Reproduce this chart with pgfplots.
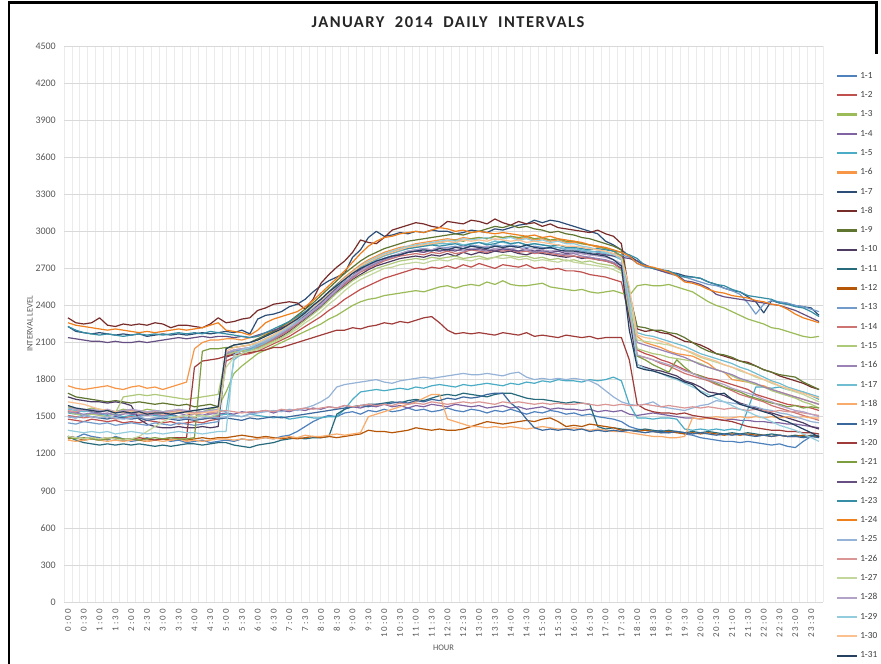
\documentclass[border=0pt]{standalone}
\usepackage{fontspec}
\setmainfont{Carlito}
\newfontfamily\titlefont[LetterSpace=9]{Carlito}
\newfontfamily\xtickfont[LetterSpace=22]{Carlito}
\usepackage{pgfplots}
\pgfplotsset{compat=1.18}
\definecolor{c1}{HTML}{4F81BD}\definecolor{c2}{HTML}{C0504D}\definecolor{c3}{HTML}{9BBB59}
\definecolor{c4}{HTML}{8064A2}\definecolor{c5}{HTML}{4BACC6}\definecolor{c6}{HTML}{F79646}
\definecolor{c7}{HTML}{2C4D75}\definecolor{c8}{HTML}{772C2A}\definecolor{c9}{HTML}{5F7530}
\definecolor{c10}{HTML}{4D3B62}\definecolor{c11}{HTML}{276A7C}\definecolor{c12}{HTML}{B65708}
\definecolor{c13}{HTML}{729ACA}\definecolor{c14}{HTML}{CD7371}\definecolor{c15}{HTML}{AFC97A}
\definecolor{c16}{HTML}{9983B5}\definecolor{c17}{HTML}{6FBDD1}\definecolor{c18}{HTML}{F9AB6B}
\definecolor{c19}{HTML}{3A679C}\definecolor{c20}{HTML}{9F3B38}\definecolor{c21}{HTML}{7E9C40}
\definecolor{c22}{HTML}{664F82}\definecolor{c23}{HTML}{358EA6}\definecolor{c24}{HTML}{F07F1E}
\definecolor{c25}{HTML}{95B3D7}\definecolor{c26}{HTML}{D99694}\definecolor{c27}{HTML}{C3D69B}
\definecolor{c28}{HTML}{B3A2C7}\definecolor{c29}{HTML}{93CDDD}\definecolor{c30}{HTML}{FAC090}
\definecolor{c31}{HTML}{254061}
\definecolor{lbl}{HTML}{595959}
\definecolor{leg}{HTML}{404040}
\newcommand\myser[2]{\addplot[color=#1] table[x expr=\coordindex*0.25, y index=0, header=false, row sep=\\]{#2};}
\begin{document}
\begin{tikzpicture}
\useasboundingbox (0,0) rectangle (881pt,664pt);
\fill[white] (0,0) rectangle (881pt,664pt);
\draw[line width=2.5pt] (9pt,-3pt) -- (9pt,661.5pt) -- (876.5pt,661.5pt) -- (876.5pt,610pt);
\node[font=\titlefont\bfseries\fontsize{16.5}{19}\selectfont, text=black!85] at (448pt,641.5pt) {JANUARY\ \ 2014\ \ DAILY\ \ INTERVALS};
\begin{axis}[at={(64pt,62pt)}, anchor=south west, scale only axis, width=759pt, height=556pt,
 xmin=-0.125, xmax=23.875, ymin=0, ymax=4500,
 ytick={0,300,...,4500},
 xtick={0,0.5,...,23.5},
 xticklabels={0:00,0:30,1:00,1:30,2:00,2:30,3:00,3:30,4:00,4:30,5:00,5:30,6:00,6:30,7:00,7:30,8:00,8:30,9:00,9:30,10:00,10:30,11:00,11:30,12:00,12:30,13:00,13:30,14:00,14:30,15:00,15:30,16:00,16:30,17:00,17:30,18:00,18:30,19:00,19:30,20:00,20:30,21:00,21:30,22:00,22:30,23:00,23:30},
 minor xtick={-0.125,0.125,...,23.875},
 xminorgrids, ymajorgrids, xmajorgrids=false,
 major grid style={draw=black!15, line width=0.7pt},
 minor grid style={draw=black!8, line width=0.7pt},
 axis line style={draw=none},
 tick style={draw=none},
 major tick length=0pt, minor tick length=0pt,
 /pgf/number format/set thousands separator={},
 /pgf/number format/assume math mode=true,
 scaled y ticks=false,
 xticklabel style={font=\xtickfont\fontsize{9}{9}\selectfont, text=lbl, rotate=90, anchor=east, inner sep=0pt},
 xticklabel shift=7pt,
 yticklabel style={font=\fontsize{10}{10}\selectfont, text=lbl, anchor=east, inner sep=0pt},
 yticklabel shift=8pt,
 ylabel={INTERVAL LEVEL}, ylabel style={font=\fontsize{8.5}{9}\selectfont, text=lbl, at={(axis description cs:-0.045,0.5)}, anchor=center, rotate=0},
 xlabel={HOUR}, xlabel style={font=\fontsize{8.5}{9}\selectfont, text=lbl, at={(axis description cs:0.5,-0.083)}, anchor=center},
 every axis plot/.append style={line width=1.2pt, line join=round, no markers},
 legend image code/.code={\draw[#1, line width=2.2pt] (0pt,0pt) -- (20pt,0pt);},
 legend style={at={(1.0172,0.9532)}, anchor=north west, draw=none, fill=none, inner sep=0pt, outer sep=0pt,
   font=\fontsize{9.3}{10}\selectfont, text=leg, row sep=11.83pt, column sep=2pt,
   nodes={inner sep=0pt, outer sep=0pt, text height=6pt, text depth=1.5pt}},
 legend cell align=left,
 legend entries={1-1,1-2,1-3,1-4,1-5,1-6,1-7,1-8,1-9,1-10,1-11,1-12,1-13,1-14,1-15,1-16,1-17,1-18,1-19,1-20,1-21,1-22,1-23,1-24,1-25,1-26,1-27,1-28,1-29,1-30,1-31},
]
\myser{c1}{1340\\1330\\1360\\1340\\1330\\1310\\1340\\1320\\1300\\1310\\1330\\1310\\1320\\1300\\1310\\1290\\1300\\1310\\1290\\1300\\1310\\1300\\1320\\1310\\1320\\1330\\1320\\1340\\1350\\1380\\1420\\1460\\1490\\1510\\1500\\1530\\1540\\1520\\1550\\1540\\1560\\1540\\1550\\1570\\1550\\1560\\1540\\1550\\1570\\1550\\1540\\1560\\1550\\1530\\1550\\1540\\1560\\1540\\1520\\1540\\1530\\1550\\1540\\1520\\1530\\1510\\1520\\1500\\1490\\1480\\1460\\1420\\1400\\1390\\1380\\1390\\1370\\1380\\1360\\1350\\1330\\1320\\1310\\1300\\1300\\1290\\1300\\1290\\1280\\1270\\1280\\1260\\1250\\1300\\1340\\1350\\}
\myser{c2}{1480\\1470\\1460\\1480\\1470\\1460\\1470\\1450\\1460\\1450\\1470\\1460\\1450\\1460\\1440\\1450\\1460\\1450\\1470\\1480\\1950\\1980\\2000\\2010\\2030\\2060\\2090\\2120\\2150\\2190\\2230\\2270\\2310\\2360\\2400\\2450\\2490\\2530\\2560\\2590\\2620\\2640\\2660\\2680\\2700\\2690\\2710\\2700\\2720\\2700\\2730\\2710\\2740\\2720\\2700\\2730\\2720\\2710\\2730\\2700\\2710\\2690\\2700\\2680\\2680\\2670\\2650\\2640\\2630\\2610\\2590\\2300\\2040\\2010\\1990\\1960\\1940\\1910\\1880\\1850\\1830\\1810\\1800\\1780\\1760\\1740\\1720\\1680\\1660\\1640\\1620\\1600\\1590\\1580\\1570\\1550\\}
\myser{c3}{1580\\1560\\1550\\1570\\1560\\1550\\1540\\1560\\1550\\1540\\1560\\1550\\1540\\1550\\1530\\1540\\1550\\1540\\1560\\1580\\1700\\1850\\1910\\1960\\2010\\2040\\2070\\2100\\2130\\2160\\2190\\2220\\2250\\2290\\2320\\2360\\2400\\2430\\2450\\2460\\2480\\2490\\2500\\2510\\2520\\2510\\2530\\2550\\2560\\2540\\2560\\2570\\2560\\2590\\2570\\2600\\2570\\2560\\2560\\2570\\2580\\2550\\2540\\2530\\2520\\2530\\2510\\2500\\2510\\2520\\2500\\2480\\2560\\2570\\2560\\2560\\2570\\2550\\2530\\2510\\2470\\2430\\2400\\2380\\2350\\2320\\2290\\2270\\2250\\2220\\2210\\2190\\2170\\2150\\2140\\2150\\}
\myser{c4}{1540\\1530\\1550\\1540\\1530\\1520\\1540\\1530\\1520\\1510\\1530\\1520\\1510\\1520\\1500\\1510\\1520\\1510\\1530\\1520\\1530\\1520\\1540\\1530\\1540\\1550\\1530\\1550\\1540\\1560\\1550\\1570\\1560\\1580\\1570\\1590\\1580\\1570\\1590\\1580\\1600\\1580\\1590\\1570\\1590\\1580\\1600\\1590\\1580\\1600\\1590\\1580\\1590\\1570\\1580\\1590\\1570\\1580\\1560\\1570\\1580\\1560\\1570\\1560\\1560\\1550\\1560\\1540\\1550\\1540\\1550\\1520\\1510\\1520\\1530\\1520\\1510\\1500\\1490\\1490\\1480\\1490\\1480\\1470\\1480\\1470\\1470\\1460\\1460\\1450\\1450\\1440\\1440\\1430\\1420\\1410\\}
\myser{c5}{1530\\1520\\1510\\1530\\1520\\1510\\1520\\1500\\1510\\1500\\1520\\1510\\1500\\1510\\1500\\1490\\1500\\1510\\1500\\1510\\1520\\1510\\1500\\1520\\1510\\1500\\1490\\1500\\1480\\1490\\1500\\1490\\1490\\1500\\1500\\1560\\1640\\1700\\1710\\1720\\1710\\1720\\1730\\1720\\1740\\1730\\1750\\1760\\1750\\1740\\1760\\1750\\1760\\1770\\1760\\1750\\1770\\1760\\1780\\1770\\1790\\1780\\1800\\1790\\1790\\1780\\1800\\1790\\1800\\1820\\1790\\1600\\1490\\1490\\1480\\1490\\1490\\1480\\1400\\1390\\1400\\1390\\1400\\1390\\1400\\1390\\1560\\1740\\1740\\1730\\1740\\1720\\1710\\1700\\1670\\1640\\}
\myser{c6}{1750\\1730\\1720\\1730\\1740\\1750\\1730\\1720\\1740\\1750\\1730\\1740\\1720\\1740\\1760\\1780\\2050\\2100\\2120\\2120\\2130\\2130\\2120\\2140\\2150\\2170\\2190\\2220\\2260\\2300\\2340\\2390\\2450\\2510\\2570\\2630\\2680\\2730\\2770\\2800\\2830\\2850\\2870\\2880\\2900\\2910\\2920\\2930\\2940\\2930\\2950\\2940\\2950\\2940\\2960\\2950\\2960\\2940\\2950\\2930\\2940\\2920\\2930\\2910\\2910\\2900\\2890\\2870\\2860\\2840\\2800\\2400\\2150\\2100\\2080\\2060\\2030\\2010\\2000\\1990\\1960\\1930\\1880\\1860\\1800\\1790\\1780\\1760\\1750\\1720\\1700\\1680\\1660\\1640\\1620\\1600\\}
\myser{c7}{2230\\2190\\2180\\2170\\2180\\2170\\2160\\2170\\2160\\2170\\2150\\2160\\2170\\2160\\2170\\2160\\2170\\2180\\2170\\2180\\2190\\2180\\2200\\2170\\2290\\2320\\2330\\2350\\2390\\2410\\2450\\2510\\2560\\2600\\2630\\2660\\2790\\2850\\2950\\3000\\2960\\2970\\2990\\2980\\3000\\2990\\3010\\3000\\3000\\2980\\2990\\3010\\3000\\2990\\3020\\3010\\3030\\3050\\3060\\3090\\3070\\3090\\3080\\3060\\3040\\3020\\3000\\2980\\2920\\2890\\2850\\2800\\2760\\2720\\2700\\2690\\2670\\2660\\2640\\2630\\2620\\2590\\2570\\2540\\2520\\2510\\2470\\2430\\2340\\2440\\2420\\2410\\2400\\2390\\2380\\2320\\}
\myser{c8}{2300\\2260\\2250\\2260\\2300\\2240\\2230\\2250\\2240\\2250\\2240\\2260\\2250\\2220\\2240\\2240\\2230\\2220\\2250\\2300\\2260\\2270\\2290\\2300\\2360\\2380\\2410\\2420\\2430\\2420\\2370\\2450\\2580\\2650\\2710\\2760\\2830\\2930\\2910\\2900\\2950\\3010\\3030\\3050\\3070\\3060\\3040\\3030\\3080\\3070\\3060\\3090\\3080\\3060\\3100\\3070\\3050\\3080\\3060\\3070\\3040\\3060\\3030\\3020\\3010\\3000\\2990\\3010\\2980\\2960\\2900\\2500\\2210\\2190\\2200\\2180\\2170\\2140\\2110\\2100\\2080\\2050\\2010\\1990\\1970\\1950\\1940\\1910\\1880\\1860\\1830\\1810\\1790\\1770\\1740\\1720\\}
\myser{c9}{1690\\1660\\1650\\1640\\1630\\1620\\1630\\1620\\1610\\1620\\1610\\1600\\1610\\1600\\1590\\1600\\1580\\1590\\1600\\1580\\2050\\2080\\2090\\2100\\2130\\2160\\2190\\2230\\2270\\2320\\2370\\2420\\2480\\2540\\2600\\2660\\2710\\2760\\2800\\2830\\2860\\2880\\2900\\2920\\2930\\2940\\2950\\2960\\2970\\2980\\2970\\2990\\3000\\3020\\3040\\3030\\3050\\3030\\3040\\3020\\3010\\2990\\3000\\2980\\2970\\2950\\2940\\2920\\2900\\2880\\2850\\2500\\2230\\2220\\2200\\2200\\2180\\2170\\2140\\2100\\2060\\2030\\2010\\2000\\1980\\1950\\1930\\1910\\1880\\1860\\1840\\1830\\1820\\1780\\1750\\1720\\}
\myser{c10}{1660\\1640\\1630\\1620\\1620\\1610\\1620\\1610\\1590\\1480\\1440\\1420\\1410\\1410\\1420\\1410\\1410\\1420\\1410\\1420\\1980\\2010\\2030\\2040\\2060\\2090\\2120\\2150\\2190\\2240\\2290\\2340\\2390\\2450\\2510\\2560\\2610\\2650\\2690\\2720\\2740\\2760\\2780\\2790\\2800\\2790\\2810\\2800\\2820\\2800\\2830\\2810\\2830\\2820\\2840\\2830\\2840\\2820\\2810\\2830\\2820\\2810\\2800\\2790\\2800\\2780\\2790\\2770\\2760\\2740\\2700\\2300\\1920\\1900\\1880\\1870\\1850\\1830\\1790\\1770\\1740\\1700\\1690\\1670\\1640\\1610\\1590\\1570\\1550\\1530\\1510\\1490\\1470\\1450\\1420\\1400\\}
\myser{c11}{1340\\1310\\1290\\1280\\1270\\1280\\1270\\1280\\1270\\1280\\1270\\1260\\1270\\1260\\1270\\1280\\1280\\1270\\1280\\1290\\1290\\1270\\1260\\1250\\1270\\1280\\1290\\1310\\1320\\1330\\1320\\1330\\1330\\1340\\1520\\1560\\1580\\1590\\1600\\1600\\1610\\1620\\1610\\1630\\1640\\1630\\1650\\1670\\1680\\1670\\1690\\1680\\1670\\1660\\1680\\1690\\1690\\1670\\1650\\1640\\1640\\1630\\1620\\1610\\1620\\1610\\1600\\1420\\1400\\1410\\1400\\1390\\1390\\1400\\1390\\1380\\1390\\1380\\1370\\1380\\1370\\1380\\1370\\1360\\1370\\1360\\1370\\1360\\1350\\1360\\1350\\1340\\1350\\1340\\1350\\1340\\}
\myser{c12}{1320\\1330\\1310\\1320\\1310\\1320\\1330\\1310\\1320\\1310\\1300\\1310\\1320\\1310\\1320\\1310\\1320\\1330\\1320\\1330\\1330\\1340\\1350\\1340\\1330\\1340\\1330\\1320\\1330\\1320\\1330\\1340\\1330\\1340\\1330\\1340\\1350\\1360\\1390\\1380\\1380\\1370\\1380\\1390\\1410\\1400\\1390\\1400\\1390\\1390\\1400\\1420\\1440\\1460\\1450\\1440\\1450\\1460\\1470\\1460\\1480\\1490\\1460\\1420\\1430\\1420\\1440\\1430\\1420\\1410\\1390\\1390\\1380\\1390\\1380\\1370\\1380\\1370\\1360\\1370\\1360\\1370\\1360\\1350\\1360\\1350\\1360\\1350\\1350\\1340\\1350\\1340\\1340\\1350\\1340\\1340\\}
\myser{c13}{1450\\1440\\1460\\1450\\1440\\1450\\1430\\1440\\1450\\1440\\1430\\1450\\1440\\1430\\1450\\1440\\1430\\1440\\1450\\1460\\2000\\2030\\2040\\2050\\2070\\2100\\2130\\2170\\2210\\2260\\2310\\2360\\2410\\2470\\2530\\2590\\2640\\2690\\2720\\2750\\2780\\2800\\2820\\2840\\2850\\2860\\2850\\2870\\2870\\2880\\2860\\2890\\2880\\2870\\2890\\2880\\2890\\2880\\2870\\2880\\2870\\2860\\2870\\2850\\2850\\2840\\2830\\2840\\2830\\2820\\2810\\2790\\2740\\2710\\2700\\2680\\2660\\2640\\2630\\2610\\2590\\2570\\2560\\2540\\2520\\2490\\2420\\2330\\2410\\2440\\2430\\2420\\2400\\2390\\2370\\2350\\}
\myser{c14}{1510\\1500\\1490\\1500\\1490\\1500\\1480\\1490\\1500\\1490\\1480\\1490\\1480\\1490\\1500\\1480\\1490\\1480\\1490\\1500\\1990\\2020\\2030\\2040\\2060\\2090\\2120\\2160\\2200\\2250\\2300\\2350\\2400\\2460\\2520\\2570\\2620\\2670\\2700\\2730\\2760\\2780\\2800\\2810\\2820\\2810\\2830\\2820\\2840\\2820\\2830\\2850\\2840\\2830\\2850\\2840\\2850\\2830\\2840\\2820\\2830\\2820\\2810\\2800\\2800\\2790\\2780\\2770\\2760\\2740\\2690\\2350\\1990\\1980\\1960\\1930\\1910\\1880\\1850\\1830\\1810\\1790\\1760\\1740\\1710\\1680\\1660\\1640\\1620\\1590\\1570\\1550\\1530\\1510\\1490\\1470\\}
\myser{c15}{1540\\1520\\1510\\1520\\1510\\1500\\1530\\1660\\1670\\1680\\1670\\1680\\1670\\1660\\1650\\1640\\1650\\1660\\1670\\1680\\2000\\2020\\2030\\2040\\2050\\2080\\2110\\2140\\2180\\2230\\2280\\2330\\2380\\2440\\2500\\2550\\2600\\2640\\2670\\2700\\2720\\2740\\2760\\2770\\2780\\2770\\2790\\2780\\2790\\2800\\2780\\2790\\2800\\2780\\2790\\2810\\2800\\2790\\2800\\2780\\2790\\2770\\2780\\2760\\2770\\2750\\2760\\2740\\2730\\2720\\2680\\2350\\2050\\2030\\2010\\2000\\1980\\1970\\1960\\1950\\1930\\1900\\1880\\1860\\1830\\1800\\1780\\1760\\1740\\1710\\1690\\1670\\1650\\1620\\1600\\1570\\}
\myser{c16}{1540\\1530\\1520\\1530\\1520\\1530\\1510\\1520\\1530\\1520\\1510\\1520\\1510\\1520\\1530\\1510\\1520\\1510\\1520\\1530\\2010\\2040\\2050\\2060\\2080\\2110\\2140\\2170\\2210\\2260\\2300\\2350\\2400\\2460\\2520\\2580\\2630\\2680\\2710\\2740\\2770\\2790\\2810\\2830\\2840\\2830\\2850\\2840\\2860\\2850\\2840\\2860\\2850\\2840\\2860\\2850\\2860\\2840\\2850\\2830\\2840\\2830\\2820\\2810\\2820\\2800\\2790\\2780\\2770\\2750\\2720\\2400\\2100\\2080\\2060\\2040\\2020\\2000\\1980\\1950\\1920\\1900\\1880\\1860\\1840\\1810\\1790\\1770\\1740\\1720\\1700\\1680\\1660\\1640\\1620\\1600\\}
\myser{c17}{1560\\1550\\1540\\1550\\1540\\1550\\1530\\1540\\1550\\1540\\1530\\1550\\1540\\1530\\1550\\1540\\1530\\1540\\1550\\1560\\1540\\1960\\2010\\2040\\2070\\2100\\2140\\2180\\2220\\2270\\2320\\2370\\2430\\2490\\2550\\2610\\2660\\2710\\2740\\2770\\2800\\2820\\2840\\2860\\2870\\2880\\2890\\2900\\2900\\2910\\2890\\2900\\2910\\2900\\2920\\2910\\2900\\2910\\2890\\2900\\2890\\2880\\2870\\2860\\2860\\2850\\2840\\2830\\2820\\2800\\2770\\2500\\2180\\2160\\2150\\2130\\2110\\2090\\2070\\2040\\2010\\1990\\1970\\1950\\1930\\1900\\1880\\1850\\1820\\1790\\1770\\1740\\1720\\1700\\1680\\1660\\}
\myser{c18}{1310\\1300\\1310\\1320\\1310\\1300\\1310\\1300\\1310\\1320\\1300\\1310\\1300\\1310\\1320\\1300\\1310\\1300\\1310\\1320\\1320\\1310\\1320\\1310\\1320\\1330\\1320\\1330\\1340\\1330\\1350\\1340\\1340\\1350\\1360\\1350\\1360\\1370\\1500\\1520\\1540\\1560\\1580\\1600\\1620\\1650\\1680\\1680\\1480\\1460\\1440\\1420\\1420\\1410\\1420\\1410\\1420\\1410\\1400\\1410\\1420\\1410\\1400\\1400\\1410\\1400\\1390\\1400\\1390\\1380\\1380\\1370\\1360\\1350\\1340\\1340\\1330\\1330\\1340\\1490\\1480\\1490\\1500\\1490\\1490\\1500\\1490\\1500\\1490\\1500\\1490\\1500\\1490\\1500\\1490\\1490\\}
\myser{c19}{1500\\1490\\1510\\1500\\1490\\1480\\1500\\1490\\1480\\1490\\1470\\1480\\1490\\1480\\1470\\1480\\1470\\1480\\1490\\1480\\1490\\1480\\1470\\1490\\1480\\1490\\1500\\1490\\1500\\1510\\1520\\1530\\1540\\1550\\1560\\1570\\1580\\1590\\1580\\1600\\1600\\1610\\1620\\1610\\1630\\1620\\1640\\1630\\1650\\1640\\1660\\1650\\1660\\1680\\1690\\1690\\1610\\1560\\1480\\1410\\1390\\1400\\1390\\1400\\1390\\1400\\1380\\1390\\1380\\1390\\1380\\1390\\1380\\1370\\1380\\1370\\1370\\1380\\1370\\1360\\1370\\1360\\1350\\1360\\1350\\1360\\1350\\1340\\1350\\1340\\1350\\1340\\1340\\1330\\1340\\1330\\}
\myser{c20}{1340\\1330\\1320\\1330\\1320\\1330\\1320\\1310\\1320\\1330\\1320\\1310\\1320\\1330\\1330\\1330\\1900\\1950\\1960\\1970\\1990\\2000\\2010\\2020\\2030\\2040\\2060\\2060\\2080\\2100\\2120\\2140\\2160\\2180\\2200\\2200\\2220\\2210\\2230\\2240\\2260\\2250\\2270\\2260\\2280\\2300\\2310\\2260\\2200\\2170\\2180\\2170\\2180\\2170\\2160\\2180\\2170\\2160\\2180\\2150\\2160\\2150\\2140\\2160\\2150\\2140\\2150\\2130\\2140\\2140\\2140\\1960\\1600\\1560\\1540\\1530\\1530\\1520\\1530\\1510\\1500\\1490\\1480\\1470\\1460\\1440\\1420\\1410\\1400\\1390\\1390\\1380\\1380\\1370\\1370\\1360\\}
\myser{c21}{1330\\1320\\1330\\1320\\1310\\1320\\1330\\1320\\1320\\1310\\1320\\1330\\1320\\1330\\1320\\1320\\1330\\2030\\2050\\2050\\2060\\2060\\2070\\2080\\2100\\2130\\2160\\2200\\2240\\2290\\2340\\2390\\2440\\2500\\2560\\2620\\2670\\2720\\2750\\2780\\2810\\2830\\2850\\2870\\2880\\2890\\2900\\2910\\2920\\2930\\2920\\2940\\2950\\2940\\2960\\2950\\2960\\2950\\2960\\2940\\2950\\2930\\2940\\2920\\2920\\2900\\2890\\2880\\2860\\2840\\2800\\2450\\1990\\1960\\1920\\1890\\1860\\1960\\1900\\1850\\1830\\1800\\1770\\1740\\1720\\1700\\1670\\1650\\1630\\1610\\1600\\1580\\1590\\1570\\1580\\1570\\}
\myser{c22}{2140\\2130\\2120\\2110\\2110\\2100\\2110\\2100\\2100\\2110\\2100\\2110\\2120\\2130\\2140\\2130\\2140\\2150\\2140\\2150\\2150\\2140\\2150\\2140\\2160\\2180\\2200\\2220\\2240\\2280\\2320\\2370\\2420\\2480\\2540\\2590\\2640\\2690\\2720\\2750\\2780\\2800\\2810\\2830\\2840\\2830\\2850\\2840\\2850\\2840\\2860\\2850\\2860\\2850\\2840\\2860\\2850\\2840\\2860\\2840\\2850\\2830\\2840\\2820\\2830\\2820\\2810\\2820\\2810\\2800\\2790\\2780\\2760\\2730\\2700\\2680\\2660\\2650\\2600\\2590\\2570\\2540\\2490\\2470\\2460\\2450\\2440\\2430\\2420\\2410\\2400\\2380\\2360\\2330\\2300\\2270\\}
\myser{c23}{2230\\2200\\2180\\2170\\2160\\2170\\2160\\2150\\2160\\2170\\2160\\2170\\2160\\2170\\2180\\2170\\2180\\2170\\2190\\2180\\2170\\2160\\2150\\2140\\2150\\2180\\2210\\2240\\2270\\2310\\2350\\2400\\2450\\2510\\2570\\2620\\2670\\2720\\2750\\2780\\2810\\2830\\2850\\2860\\2870\\2880\\2890\\2880\\2890\\2900\\2880\\2900\\2910\\2890\\2900\\2920\\2900\\2910\\2890\\2900\\2890\\2880\\2890\\2870\\2870\\2860\\2850\\2860\\2850\\2840\\2830\\2810\\2780\\2720\\2700\\2690\\2680\\2650\\2630\\2630\\2620\\2590\\2570\\2560\\2530\\2510\\2480\\2470\\2460\\2450\\2420\\2410\\2390\\2380\\2350\\2310\\}
\myser{c24}{2260\\2240\\2230\\2220\\2210\\2200\\2210\\2200\\2190\\2180\\2190\\2180\\2190\\2200\\2210\\2200\\2210\\2220\\2240\\2260\\2200\\2190\\2180\\2160\\2200\\2260\\2290\\2310\\2330\\2350\\2390\\2440\\2500\\2560\\2620\\2680\\2750\\2820\\2880\\2920\\2950\\2960\\2980\\2990\\3000\\2990\\3010\\3030\\3020\\3000\\3010\\2990\\3000\\2990\\2980\\2990\\2980\\2970\\2960\\2970\\2950\\2960\\2940\\2930\\2920\\2910\\2890\\2880\\2870\\2850\\2830\\2800\\2740\\2720\\2710\\2690\\2670\\2640\\2590\\2580\\2560\\2530\\2510\\2500\\2480\\2470\\2460\\2440\\2430\\2410\\2400\\2370\\2330\\2300\\2280\\2260\\}
\myser{c25}{1500\\1490\\1510\\1500\\1490\\1500\\1490\\1480\\1490\\1500\\1480\\1490\\1500\\1490\\1480\\1490\\1480\\1490\\1500\\1490\\1500\\1510\\1500\\1520\\1530\\1540\\1550\\1540\\1560\\1550\\1570\\1590\\1620\\1660\\1740\\1760\\1770\\1780\\1790\\1800\\1780\\1770\\1790\\1800\\1810\\1820\\1810\\1820\\1830\\1840\\1850\\1840\\1840\\1850\\1840\\1830\\1850\\1860\\1820\\1800\\1810\\1800\\1810\\1800\\1810\\1800\\1790\\1760\\1710\\1660\\1620\\1600\\1590\\1600\\1620\\1580\\1570\\1560\\1550\\1570\\1590\\1600\\1630\\1620\\1610\\1600\\1590\\1580\\1560\\1550\\1530\\1520\\1500\\1480\\1460\\1450\\}
\myser{c26}{1550\\1540\\1560\\1550\\1540\\1550\\1530\\1540\\1550\\1540\\1530\\1540\\1530\\1540\\1550\\1540\\1530\\1540\\1530\\1540\\1550\\1540\\1530\\1540\\1540\\1550\\1540\\1560\\1550\\1560\\1570\\1560\\1570\\1580\\1570\\1590\\1580\\1590\\1600\\1590\\1600\\1590\\1610\\1600\\1610\\1600\\1620\\1610\\1600\\1610\\1620\\1610\\1620\\1610\\1600\\1620\\1610\\1620\\1610\\1600\\1610\\1600\\1610\\1600\\1600\\1610\\1600\\1590\\1600\\1590\\1600\\1590\\1590\\1600\\1590\\1580\\1590\\1580\\1570\\1580\\1570\\1580\\1570\\1560\\1570\\1560\\1550\\1560\\1550\\1540\\1550\\1540\\1540\\1530\\1520\\1510\\}
\myser{c27}{1340\\1330\\1320\\1330\\1320\\1330\\1320\\1310\\1320\\1340\\1380\\1420\\1460\\1490\\1500\\1510\\1500\\1510\\1500\\1520\\1900\\1980\\2010\\2030\\2040\\2070\\2100\\2130\\2170\\2210\\2260\\2300\\2350\\2410\\2460\\2520\\2570\\2610\\2640\\2670\\2700\\2710\\2730\\2740\\2750\\2740\\2760\\2770\\2760\\2780\\2770\\2760\\2780\\2770\\2790\\2780\\2790\\2770\\2780\\2760\\2770\\2760\\2750\\2770\\2750\\2740\\2730\\2720\\2710\\2690\\2660\\2450\\2120\\2110\\2100\\2090\\2080\\2060\\2040\\2010\\1980\\1960\\1940\\1920\\1900\\1870\\1850\\1820\\1800\\1770\\1750\\1720\\1700\\1680\\1650\\1620\\}
\myser{c28}{1570\\1560\\1550\\1560\\1550\\1560\\1540\\1550\\1560\\1550\\1540\\1550\\1540\\1550\\1560\\1550\\1550\\1540\\1550\\1560\\2020\\2040\\2050\\2060\\2090\\2110\\2140\\2180\\2220\\2260\\2310\\2360\\2410\\2470\\2530\\2590\\2640\\2680\\2720\\2750\\2780\\2800\\2820\\2840\\2850\\2860\\2850\\2870\\2860\\2870\\2880\\2860\\2870\\2880\\2860\\2870\\2860\\2870\\2850\\2860\\2850\\2840\\2850\\2830\\2830\\2820\\2810\\2800\\2790\\2770\\2740\\2400\\2000\\1980\\1960\\1940\\1920\\1900\\1870\\1850\\1820\\1800\\1780\\1760\\1730\\1710\\1690\\1670\\1640\\1620\\1590\\1570\\1550\\1540\\1520\\1500\\}
\myser{c29}{1390\\1380\\1370\\1380\\1370\\1380\\1360\\1370\\1380\\1370\\1360\\1370\\1360\\1370\\1380\\1370\\1370\\1360\\1370\\1380\\1380\\2000\\2040\\2060\\2090\\2120\\2150\\2190\\2230\\2280\\2330\\2380\\2440\\2500\\2560\\2620\\2670\\2720\\2760\\2790\\2820\\2840\\2860\\2880\\2890\\2900\\2910\\2920\\2930\\2920\\2940\\2930\\2940\\2950\\2930\\2940\\2950\\2930\\2940\\2920\\2930\\2910\\2920\\2900\\2900\\2880\\2870\\2850\\2830\\2810\\2780\\2450\\1920\\1890\\1870\\1850\\1820\\1800\\1770\\1740\\1710\\1680\\1650\\1620\\1590\\1560\\1540\\1510\\1490\\1460\\1430\\1410\\1390\\1360\\1330\\1300\\}
\myser{c30}{1620\\1610\\1600\\1580\\1560\\1550\\1540\\1530\\1540\\1530\\1520\\1530\\1520\\1530\\1540\\1530\\1520\\1530\\1540\\1550\\2030\\2060\\2070\\2080\\2100\\2130\\2160\\2200\\2240\\2290\\2340\\2390\\2440\\2500\\2560\\2620\\2670\\2720\\2750\\2780\\2810\\2830\\2850\\2870\\2880\\2890\\2900\\2910\\2920\\2910\\2930\\2920\\2930\\2920\\2940\\2930\\2920\\2930\\2910\\2920\\2910\\2900\\2890\\2880\\2880\\2870\\2860\\2850\\2840\\2820\\2790\\2550\\2160\\2140\\2130\\2110\\2090\\2060\\2040\\2020\\1990\\1970\\1950\\1920\\1900\\1880\\1850\\1830\\1800\\1780\\1750\\1730\\1710\\1690\\1670\\1650\\}
\myser{c31}{1590\\1570\\1560\\1550\\1540\\1550\\1530\\1540\\1530\\1540\\1520\\1530\\1530\\1520\\1530\\1540\\1550\\1560\\1570\\1580\\2050\\2080\\2090\\2100\\2120\\2150\\2180\\2210\\2250\\2290\\2340\\2400\\2450\\2510\\2560\\2610\\2660\\2700\\2730\\2760\\2780\\2800\\2810\\2830\\2840\\2850\\2840\\2860\\2850\\2870\\2860\\2880\\2870\\2860\\2880\\2870\\2880\\2870\\2890\\2870\\2860\\2870\\2850\\2840\\2840\\2830\\2820\\2810\\2800\\2770\\2720\\2200\\1900\\1880\\1870\\1850\\1830\\1810\\1780\\1760\\1700\\1660\\1680\\1690\\1640\\1600\\1580\\1560\\1540\\1520\\1480\\1460\\1430\\1400\\1370\\1335\\}
\end{axis}
\end{tikzpicture}
\end{document}
